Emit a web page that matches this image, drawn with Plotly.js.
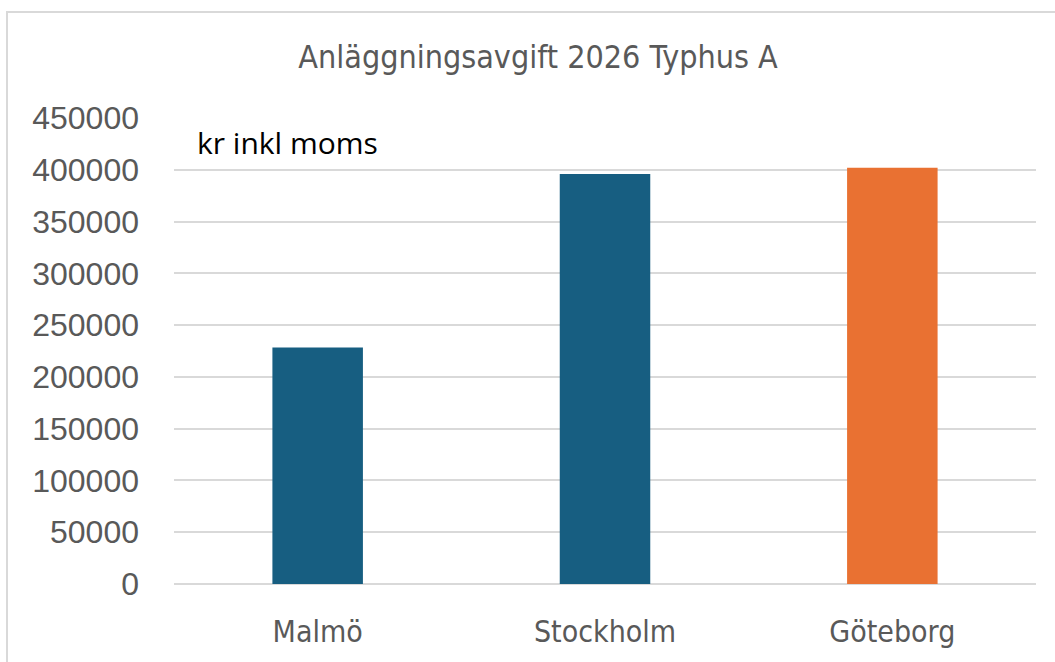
<!DOCTYPE html>
<html>
<head>
<meta charset="utf-8">
<script src="https://cdn.plot.ly/plotly-3.0.1.min.js"></script>
<style>
  html, body { margin: 0; padding: 0; background: #fff; }
  #chart { position: absolute; left: 0; top: 0; width: 1055px; height: 662px; }
  #frame { position: absolute; left: 6px; top: 11px; width: 1100px; height: 700px;
           border-left: 2px solid #d9d9d9; border-top: 2px solid #d9d9d9; pointer-events: none; }
</style>
</head>
<body>
<div id="chart"></div>
<div id="frame"></div>
<script>
const categories = ["Malmö", "Stockholm", "Göteborg"];
const values = [228500, 396000, 402000];
const barColors = ["#175e81", "#175e81", "#e97132"];
const chartTitle = "Anläggningsavgift 2026 Typhus A";
const unitLabel = "kr inkl moms";
const yTicks = [0, 50000, 100000, 150000, 200000, 250000, 300000, 350000, 400000, 450000];

const narrow = "'Liberation Sans Narrow', 'DejaVu Sans Condensed', 'Arial Narrow', sans-serif";
const regular = "'Liberation Sans', Arial, sans-serif";

const data = [{
  type: "bar",
  x: categories,
  y: values,
  marker: { color: barColors },
  width: 0.315,
  hoverinfo: "none"
}];

const layout = {
  width: 1055,
  height: 662,
  margin: { l: 174, r: 19, t: 118, b: 78 },
  paper_bgcolor: "#ffffff",
  plot_bgcolor: "#ffffff",
  showlegend: false,
  title: {
    text: chartTitle,
    font: { family: narrow, size: 32, color: "#595959" },
    x: 0.51, xref: "container", xanchor: "center",
    y: 0.914, yref: "container", yanchor: "middle"
  },
  xaxis: {
    type: "category",
    showgrid: false,
    showline: false,
    zeroline: false,
    ticks: "",
    ticklabelstandoff: 27,
    tickfont: { family: narrow, size: 30, color: "#595959" }
  },
  yaxis: {
    range: [0, 450000],
    tickvals: yTicks,
    ticktext: yTicks.map(String),
    showgrid: true,
    gridcolor: "#d9d9d9",
    gridwidth: 2,
    zeroline: true,
    zerolinecolor: "#d9d9d9",
    zerolinewidth: 2,
    showline: false,
    ticks: "",
    ticklabelstandoff: 34,
    tickfont: { family: regular, size: 32, color: "#595959" }
  },
  annotations: [{
    text: unitLabel,
    xref: "paper", yref: "y",
    x: 0.024, y: 426000,
    xanchor: "left", yanchor: "middle",
    showarrow: false,
    font: { family: "'Open Sans', 'Liberation Sans', sans-serif", size: 30, color: "#000000" }
  }]
};

Plotly.newPlot("chart", data, layout, { displayModeBar: false, staticPlot: true });
</script>
</body>
</html>
